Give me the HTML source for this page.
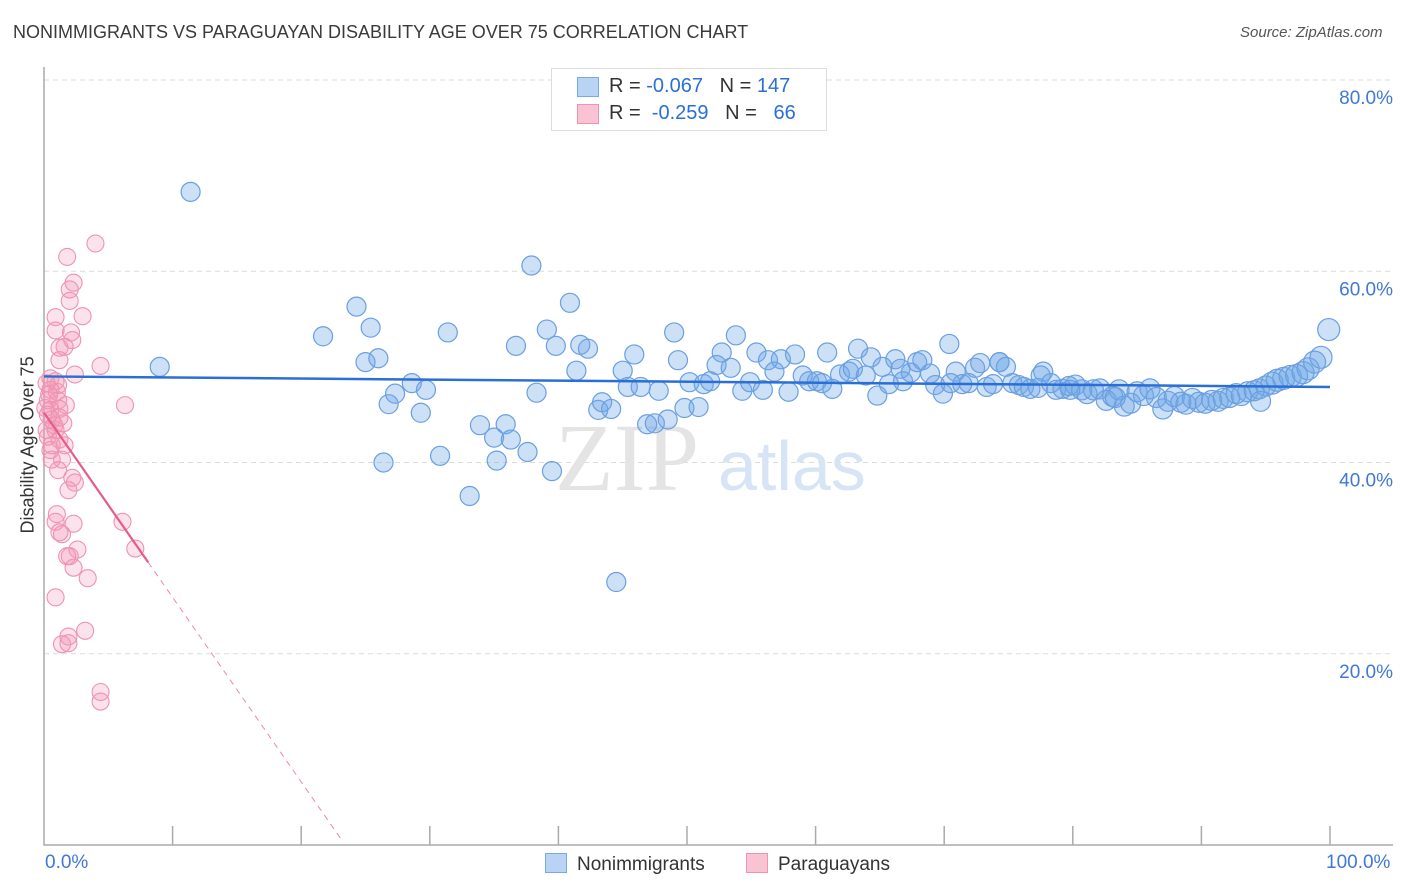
<!DOCTYPE html>
<html><head><meta charset="utf-8"><style>
body{margin:0;background:#fff;font-family:"Liberation Sans",sans-serif;}
#wrap{position:relative;width:1406px;height:892px;overflow:hidden;}
.t{position:absolute;white-space:nowrap;}
</style></head><body>
<div id="wrap">
<div class="t" style="left:13px;top:22px;font-size:18px;color:#3a3a3a;">NONIMMIGRANTS VS PARAGUAYAN DISABILITY AGE OVER 75 CORRELATION CHART</div>
<div class="t" style="left:1240px;top:24px;font-size:15px;color:#555;font-style:italic;">Source: ZipAtlas.com</div>
<svg id="plot" width="1406" height="892" style="position:absolute;left:0;top:0"></svg>
</div>
<script>
const blueX=[11.4,9.0,21.7,24.3,25.4,25.0,26.0,26.8,27.3,28.6,29.3,26.4,29.7,30.8,31.4,33.1,33.9,35.0,35.9,36.3,35.2,36.7,37.6,37.9,38.3,39.1,39.8,39.5,40.9,41.4,41.7,42.3,43.1,43.4,44.1,44.5,45.0,45.4,45.9,46.4,46.9,47.5,47.8,48.5,49.0,49.3,49.8,50.2,50.9,51.3,51.8,52.3,52.7,53.4,53.8,54.3,54.9,55.4,55.9,56.3,56.8,57.3,57.9,58.4,59.0,59.5,60.1,60.5,60.9,61.3,61.9,62.6,62.9,63.3,63.9,64.3,64.8,65.2,65.7,66.2,66.8,67.4,67.9,68.3,68.9,69.3,69.9,70.4,70.9,71.4,71.9,72.4,72.8,73.3,73.8,74.3,74.8,75.3,75.8,76.2,76.7,77.3,77.7,78.3,78.7,79.2,79.7,80.2,80.7,81.1,81.6,82.1,82.6,83.1,83.6,84.0,84.5,85.0,85.5,86.0,86.5,87.0,87.4,87.9,88.4,88.8,89.3,89.8,90.3,90.8,91.3,91.7,92.2,92.7,93.1,93.6,94.1,94.5,95.0,95.5,95.9,96.4,96.9,97.4,97.9,98.3,98.8,99.3,99.9,94.6,77.5,66.6,74.3,70.5,83.3,79.8];
const blueY=[68.3,50.0,53.2,56.3,54.1,50.5,50.9,46.1,47.2,48.3,45.2,40.0,47.6,40.7,53.6,36.5,43.9,42.6,44.0,42.4,40.2,52.2,41.1,60.6,47.3,53.9,52.2,39.1,56.7,49.6,52.3,51.9,45.5,46.3,45.6,27.5,49.6,47.9,51.3,47.9,44.0,44.1,47.5,44.5,53.6,50.7,45.7,48.4,45.8,48.2,48.5,50.2,51.5,49.9,53.3,47.5,48.4,51.5,47.6,50.7,49.5,50.8,47.4,51.3,49.1,48.5,48.5,48.3,51.5,47.7,49.2,49.5,49.8,51.9,49.1,51.0,47.0,50.0,48.2,50.8,48.5,49.4,50.5,50.7,49.3,48.1,47.2,52.4,49.5,48.2,48.3,49.9,50.4,47.9,48.2,50.5,50.0,48.3,48.1,47.9,47.7,47.8,49.5,48.3,47.6,47.7,48.0,48.1,47.6,47.2,47.6,47.7,46.5,46.9,47.6,45.9,46.2,47.4,47.0,47.7,46.8,45.6,46.4,46.9,46.3,46.1,46.7,46.3,46.2,46.5,46.4,46.7,46.8,47.2,47.0,47.4,47.5,47.7,48.0,48.3,48.6,48.8,49.0,49.1,49.4,49.8,50.5,51.0,53.9,46.4,49.1,49.8,50.5,48.3,46.8,47.6];
const pinkX=[4.0,1.8,2.3,2.0,2.0,0.9,3.0,0.9,2.1,2.2,1.2,1.6,1.2,4.4,2.4,0.5,0.9,0.5,1.0,0.3,1.1,0.5,1.2,6.3,0.6,0.9,0.3,1.2,1.6,0.5,1.4,1.1,2.2,2.4,1.9,1.0,0.9,2.3,6.1,1.2,1.4,2.6,1.8,2.0,7.1,2.3,3.4,0.9,3.2,1.9,1.4,1.9,4.4,4.4,0.3,0.6,0.8,0.2,1.1,0.2,0.4,0.6,1.5,0.1,1.2,1.7];
const pinkY=[62.9,61.5,58.8,58.1,56.9,55.2,55.3,53.8,53.6,52.8,52.0,52.1,50.7,50.1,49.2,48.8,48.5,47.6,47.4,46.5,46.5,45.5,45.6,46.0,44.5,43.4,42.7,42.4,41.8,41.3,40.3,39.2,38.4,37.9,37.1,34.6,33.8,33.6,33.8,32.7,32.5,30.9,30.2,30.2,31.0,29.0,27.9,25.9,22.4,21.8,21.0,21.1,16.0,15.0,45.0,41.8,43.9,48.3,48.1,43.4,47.1,40.3,44.1,45.7,44.7,46.0];
const yTicks=[20,40,60,80];
const yTickLabels=["20.0%","40.0%","60.0%","80.0%"];
const xTicks=[0,10,20,30,40,50,60,70,80,90,100];
const blueTrend=[49.0,47.9];
const pinkTrend=[45.2,-1.93];

const NS="http://www.w3.org/2000/svg";
const svg=document.getElementById('plot');
const X=v=>44+v*12.86, Y=v=>845-v*9.5625;
function mk(tag,attrs,parent){const e=document.createElementNS(NS,tag);for(const k in attrs)e.setAttribute(k,attrs[k]);(parent||svg).appendChild(e);return e;}

yTicks.forEach((v,i)=>{
 const g=mk('line',{x1:44,x2:1393,y1:Y(v),y2:Y(v),stroke:'#dcdcdc','stroke-dasharray':'5,4','stroke-width':1});
 
 
 const t=mk('text',{x:1393,y:Y(v)+24,'text-anchor':'end','font-size':19,fill:'#3f78d6','font-family':'Liberation Sans, sans-serif'});
 t.textContent=yTickLabels[i];
 
 
});
const ax=mk('path',{d:'M44,67 V845 H1393',stroke:'#aaa','stroke-width':1.5,fill:'none'});


xTicks.forEach(v=>{if(v===0)return;
 const l=mk('line',{x1:X(v),x2:X(v),y1:826,y2:845,stroke:'#aaa','stroke-width':1.5});
 
 
});
// watermark
const wm=mk('text',{x:555,y:490,'font-size':96,fill:'#e4e4e4','font-family':'Liberation Serif, serif'});wm.textContent='ZIP';


const wm2=mk('text',{x:718,y:490,'font-size':70,fill:'#d6e4f5','font-family':'Liberation Sans, sans-serif'});wm2.textContent='atlas';



blueX.forEach((x,i)=>{
 const r=x>95?11:(x>80?10:9.5);
 const c=mk('circle',{cx:X(x),cy:Y(blueY[i]),r:r,fill:'rgba(110,165,230,0.35)',stroke:'#6b9fe2','stroke-width':1.2});
 
 
});
pinkX.forEach((x,i)=>{
 const c=mk('circle',{cx:X(x),cy:Y(pinkY[i]),r:8.5,fill:'rgba(245,150,180,0.28)',stroke:'#ee93b3','stroke-width':1.1});
 
 
});
const bt=mk('line',{x1:X(0),x2:X(100),y1:Y(blueTrend[0]),y2:Y(blueTrend[1]),stroke:'#2a6fd6','stroke-width':2.5});


const pf=x=>pinkTrend[0]+pinkTrend[1]*x;
const pt=mk('line',{x1:X(0),x2:X(8.1),y1:Y(pf(0)),y2:Y(pf(8.1)),stroke:'#e55c8a','stroke-width':2.2});


const pd=mk('line',{x1:X(8.1),x2:X(23.2),y1:Y(pf(8.1)),y2:Y(pf(23.2)),stroke:'#e88aaa','stroke-width':1,'stroke-dasharray':'6,5'});


</script>
<div class="t" style="left:45px;top:852px;font-size:19px;color:#3f78d6;">0.0%</div>
<div class="t" style="left:1326px;top:852px;font-size:19px;color:#3f78d6;">100.0%</div>
<div class="t" style="left:-52px;top:443px;font-size:18px;color:#333;transform:rotate(-90deg);width:160px;text-align:center;">Disability Age Over 75</div>
<div style="position:absolute;left:551px;top:68px;width:274px;height:61px;border:1px solid #ddd;background:#fff;font-size:20px;">
 <div style="position:absolute;left:25px;top:8px;width:20px;height:18px;background:#b9d3f5;border:1px solid #7aa8e5;"></div>
 <div class="t" style="left:57px;top:6px;color:#333;">R = <span style="color:#2a6fd6">-0.067</span>&nbsp;&nbsp;&nbsp;N = <span style="color:#2a6fd6">147</span></div>
 <div style="position:absolute;left:25px;top:35px;width:20px;height:18px;background:#f9c3d4;border:1px solid #ee93b3;"></div>
 <div class="t" style="left:57px;top:33px;color:#333;">R = &nbsp;<span style="color:#2a6fd6">-0.259</span>&nbsp;&nbsp;&nbsp;N = &nbsp;&nbsp;<span style="color:#2a6fd6">66</span></div>
</div>
<div style="position:absolute;left:545px;top:853px;font-size:19px;color:#333;">
 <span style="display:inline-block;width:20px;height:18px;background:#b9d3f5;border:1px solid #7aa8e5;vertical-align:-3px;margin-right:10px;"></span>Nonimmigrants</div>
<div style="position:absolute;left:746px;top:853px;font-size:19px;color:#333;">
 <span style="display:inline-block;width:20px;height:18px;background:#f9c3d4;border:1px solid #ee93b3;vertical-align:-3px;margin-right:10px;"></span>Paraguayans</div>
</body></html>
